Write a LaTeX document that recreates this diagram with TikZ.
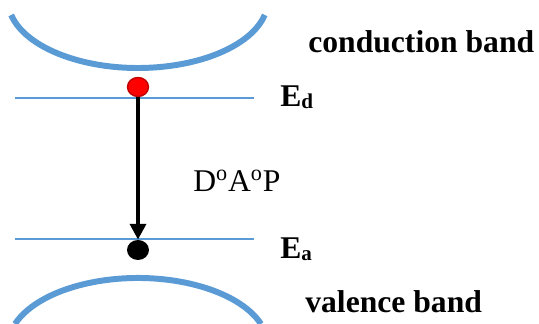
\documentclass[tikz,border=0pt]{standalone}
\usepackage{fontspec}
\setmainfont{Liberation Serif}
\usepackage{xcolor}
\usetikzlibrary{shapes.geometric, arrows.meta, positioning}
\definecolor{bandblue}{HTML}{5B9BD5}
\tikzstyle{band} = [
draw=bandblue,
line width=3.4pt
]
\tikzstyle{level} = [
draw=bandblue,
line width=1.1pt
]
\tikzstyle{donordot} = [
ellipse,
minimum width=0.42cm,
minimum height=0.38cm,
inner sep=0pt,
draw=red!75!black,
fill=red,
thick
]
\tikzstyle{acceptordot} = [
ellipse,
minimum width=0.44cm,
minimum height=0.4cm,
inner sep=0pt,
fill=black
]
\tikzstyle{bandlabel} = [
anchor=base west,
inner sep=0pt,
font=\fontsize{18}{20}\selectfont\bfseries
]
\tikzstyle{arrow} = [
line width=2.8pt,
-{Triangle[width=9pt, length=9pt]},
draw=black
]

\begin{document}
\begin{tikzpicture}[x=0.02cm, y=0.02cm]
			
			\useasboundingbox (0,0) rectangle (539,324);
			
			% bands
			\draw [band] (138,324) ++(192.7:130 and 68) arc (192.7:347.3:130 and 68);
			\draw [band] (138,-22) ++(18.9:130 and 68) arc (18.9:161.1:130 and 68);
			
			% impurity levels
			\draw [level] (15,226) -- (254,226);
			\draw [level] (15,85) -- (254,85);
			
			\node (donor) [donordot] at (138,237) {};
			
			\node (acceptor) [acceptordot] at (138,74) {};
			
			\node (cb) [bandlabel] at (308,271) {conduction band};
			
			\node (ed) [bandlabel] at (280,217) {E\raisebox{-1pt}{\fontsize{12}{12}\selectfont d}};
			
			\node (ea) [bandlabel] at (280,65) {E\raisebox{-1pt}{\fontsize{12}{12}\selectfont a}};
			
			\node (vb) [bandlabel] at (305,11) {valence band};
			
			\node (dap) [anchor=base west, inner sep=0pt, font=\fontsize{18}{20}\selectfont] at (193,132) {D\textsuperscript{o}A\textsuperscript{o}P};
			
			\draw [arrow] (donor) -- (acceptor);
			
		\end{tikzpicture}
\end{document}
